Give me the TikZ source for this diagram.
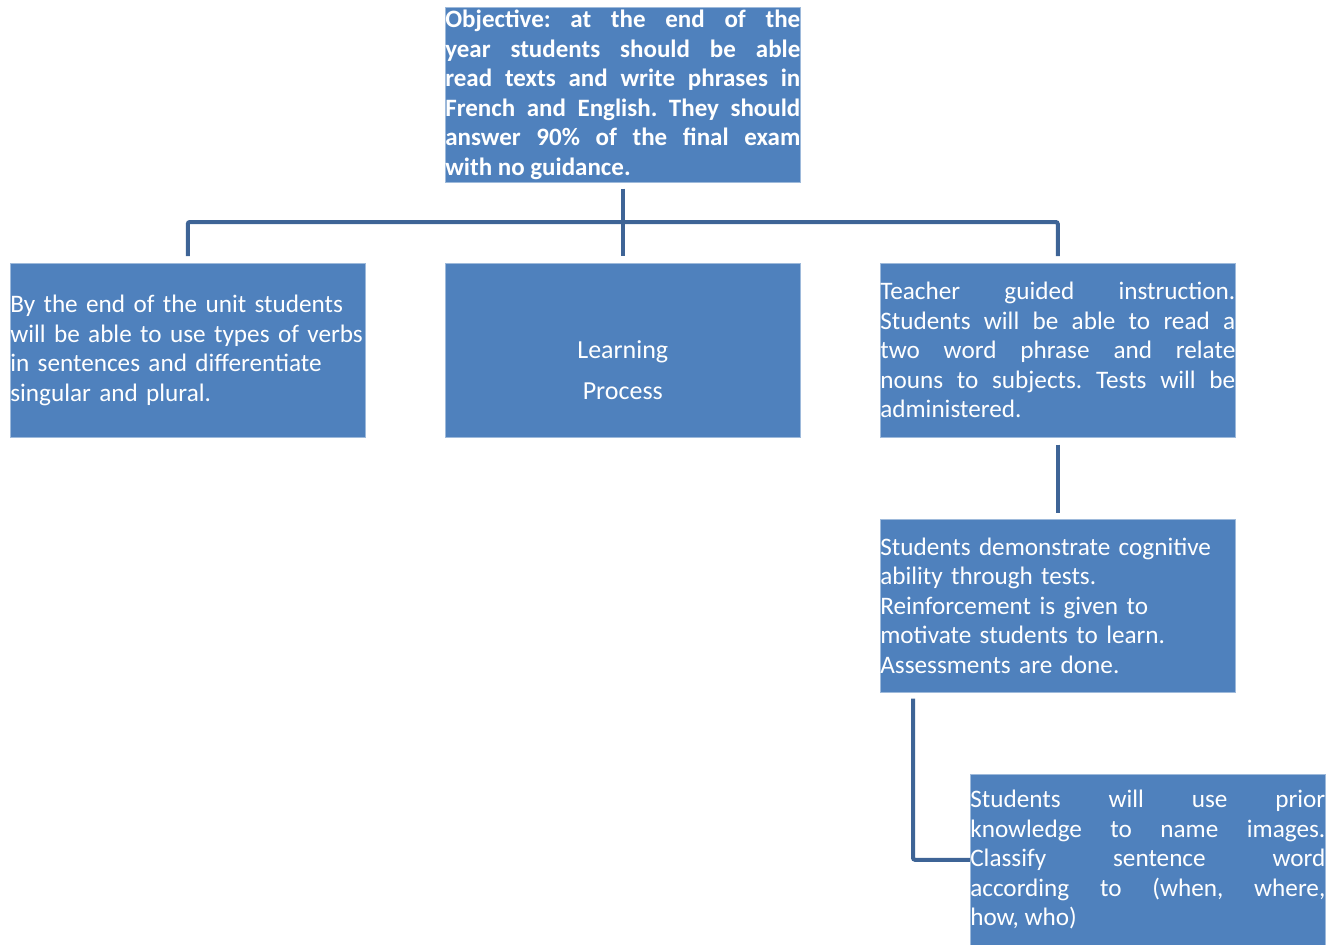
\documentclass[tikz,border=0pt]{standalone}
\usepackage{fontspec}
\setmainfont{Carlito}
\definecolor{boxblue}{HTML}{4F81BD}
\definecolor{lineblue}{RGB}{62,100,150}
\hyphenpenalty=10000
\exhyphenpenalty=10000
\frenchspacing
\begin{document}
\begin{tikzpicture}[x=1pt,y=-1pt,
  box/.style={fill=boxblue, draw=boxblue!55!white, line width=0.6pt, text=white,
    inner xsep=0pt, inner ysep=0pt, anchor=north west,
    minimum width=355pt, text width=355pt,
    font=\fontsize{25.2}{29.5}\selectfont},
  conn/.style={draw=lineblue, line width=4pt, rounded corners=2pt}]
\useasboundingbox (0,0) rectangle (1342,945);

\node[box, minimum height=175pt, align=justify, font=\fontsize{25}{29.5}\selectfont\bfseries] (top) at (445,7)
  {Objective: at the end of the\linebreak year students should be able\linebreak read texts and write phrases in\linebreak French and English. They should\linebreak answer 90\% of the final exam\linebreak with no guidance.};

\node[box, minimum height=174pt, align=left] (left) at (10,263)
  {By the end of the unit students\\will be able to use types of verbs\\in sentences and differentiate\\singular and plural.};

\node[box, minimum height=174pt, align=center, font=\fontsize{26}{41}\selectfont] (mid) at (445,263)
  {\mbox{}\\[16pt]Learning\\Process};

\node[box, minimum height=174pt, align=justify] (right) at (880,263)
  {Teacher guided instruction.\linebreak Students will be able to read a\linebreak two word phrase and relate\linebreak nouns to subjects. Tests will be\linebreak administered.};

\node[box, minimum height=173pt, align=left] (b4) at (880,519)
  {Students demonstrate cognitive\\ability through tests.\\Reinforcement is given to\\motivate students to learn.\\Assessments are done.};

\node[box, minimum height=171pt, align=justify] (b5) at (970,774)
  {Students will use prior\linebreak knowledge to name images.\linebreak Classify sentence word\linebreak according to (when, where,\linebreak how, who)};

\coordinate (hub) at (622.5,222);
\draw[conn, shorten <=6pt, shorten >=7pt] (top.south) -- (mid.north);
\draw[conn, shorten <=7pt, shorten >=7pt] (left.north) |- (hub) -| (right.north);
\draw[conn, shorten <=7pt, shorten >=6pt] (right.south) -- (b4.north);
\draw[conn, shorten <=6pt] ([xshift=33pt]b4.south west) |- (b5.west);
\end{tikzpicture}
\end{document}
